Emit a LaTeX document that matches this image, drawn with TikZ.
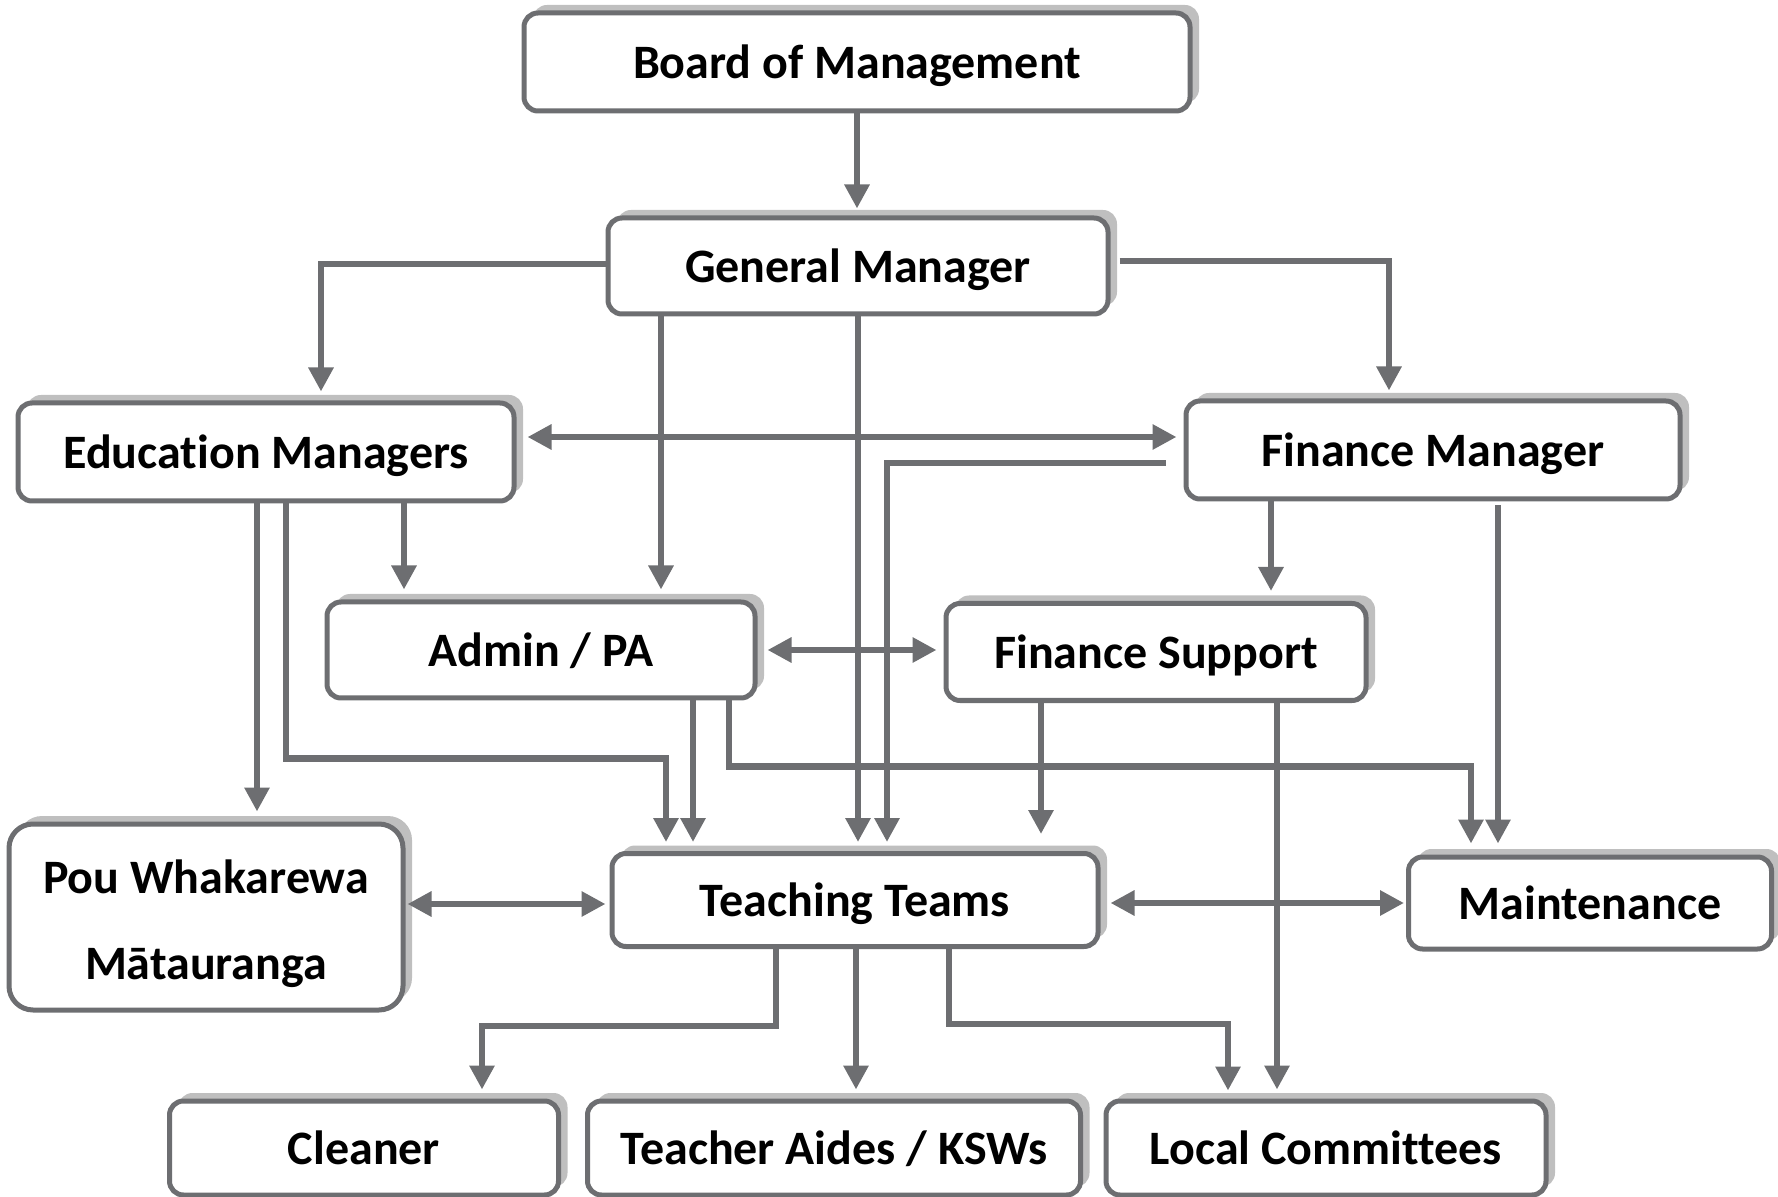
\documentclass[tikz,border=0pt]{standalone}
\usepackage{fontspec}
\setmainfont{Carlito}[Ligatures=CommonOff]
\usetikzlibrary{shadows,arrows.meta,calc}
\definecolor{lg}{HTML}{6D6E71}
\definecolor{sg}{HTML}{BFBFBF}
\begin{document}
\begin{tikzpicture}[x=0.5pt,y=-0.5pt,
 box/.style={draw=lg, line width=2.5pt, rounded corners=7pt, fill=white,
   font=\fontsize{24}{29}\selectfont\bfseries, align=center, inner sep=0pt,
   text height=21pt, text depth=4.8pt,
   drop shadow={shadow xshift=4.5pt, shadow yshift=4pt, fill=sg, opacity=1}},
 conn/.style={draw=lg, line width=3.2pt, -{Triangle[length=12pt,width=12pt]}},
 dconn/.style={draw=lg, line width=3.2pt, {Triangle[length=12pt,width=12pt]}-{Triangle[length=12pt,width=12pt]}}]
\useasboundingbox (0,0) rectangle (1778,1197);

\node[box, minimum width=333pt, minimum height=49pt] (board) at (857,62) {Board of Management};
\node[box, minimum width=250pt, minimum height=48pt] (gm) at (858,266) {General Manager};
\node[box, minimum width=248pt, minimum height=49pt] (edu) at (266,452) {Education Managers};
\node[box, minimum width=247pt, minimum height=49pt] (fin) at (1433,450) {Finance Manager};
\node[box, minimum width=214pt, minimum height=48pt] (admin) at (541,650) {Admin / PA};
\node[box, minimum width=210pt, minimum height=48.5pt] (fsup) at (1156,652) {Finance Support};
\node[box, minimum width=197pt, minimum height=93pt, rounded corners=12pt, text height=, text depth=] (pou) at (206,917) {\rule{0pt}{24pt}Pou Whakarewa\\[14pt]Mātauranga};
\node[box, minimum width=243pt, minimum height=46.5pt] (teach) at (855,900) {Teaching Teams};
\node[box, minimum width=181.5pt, minimum height=46pt] (maint) at (1590,903) {Maintenance};
\node[box, minimum width=194.5pt, minimum height=47pt] (clean) at (364,1148) {Cleaner};
\node[box, minimum width=246.5pt, minimum height=47pt] (aides) at (834,1148) {Teacher Aides / KSWs};
\node[box, minimum width=220pt, minimum height=47pt] (local) at (1326,1148) {Local Committees};

\draw[conn] (board.south) -- ($(gm.north)+(-1,-7)$);
\draw[conn] ($(gm.west)+(0,-2)$) -| ($(edu.north)+(55,-9)$);
\draw[conn] ($(gm.east)+(9,-5)$) -| ($(fin.north)+(-44,-8)$);
\draw[conn] ($(gm.south)+(-197,0)$) -- ($(admin.north)+(120,-10)$);
\draw[conn] (gm.south) -- ($(teach.north)+(3,-9)$);
\draw[dconn] ($(edu.east)+(11,-15)$) -- ($(fin.west)+(-7,-13)$);
\draw[conn] ($(fin.west)+(-18,13)$) -| ($(teach.north)+(32,-9)$);
\draw[conn] ($(edu.south)+(138,0)$) -- ($(admin.north)+(-137,-10)$);
\draw[conn] ($(edu.south)+(-9,0)$) -- ($(pou.north)+(51,-10)$);
\draw[conn] ($(edu.south)+(20,0)$) -- ++(0,255) -| ($(teach.north)+(-189,-9)$);
\draw[conn] ($(admin.south)+(152,0)$) -- ($(teach.north)+(-162,-9)$);
\draw[conn] ($(admin.south)+(188,0)$) -- ++(0,66) -| ($(maint.north)+(-119,-11)$);
\draw[dconn] ($(admin.east)+(10,0)$) -- ($(fsup.west)+(-7,-2)$);
\draw[conn] ($(fin.south)+(-162,0)$) -- ($(fsup.north)+(115,-10)$);
\draw[conn] ($(fin.south)+(65,4)$) -- ($(maint.north)+(-92,-11)$);
\draw[conn] ($(fsup.south)+(-115,0)$) -- ($(teach.north)+(186,-17)$);
\draw[conn] ($(fsup.south)+(121,0)$) -- ($(local.north)+(-49,-9)$);
\draw[dconn] ($(pou.east)+(2,-13)$) -- ($(teach.west)+(-4,4)$);
\draw[dconn] ($(teach.east)+(10,3)$) -- ($(maint.west)+(-2,0)$);
\draw[conn] ($(teach.south)+(-79,0)$) -- ++(0,77) -| ($(clean.north)+(118,-9)$);
\draw[conn] ($(teach.south)+(1,0)$) -- ($(aides.north)+(22,-9)$);
\draw[conn] ($(teach.south)+(94,0)$) -- ++(0,75) -| ($(local.north)+(-98,-8)$);
\end{tikzpicture}
\end{document}
